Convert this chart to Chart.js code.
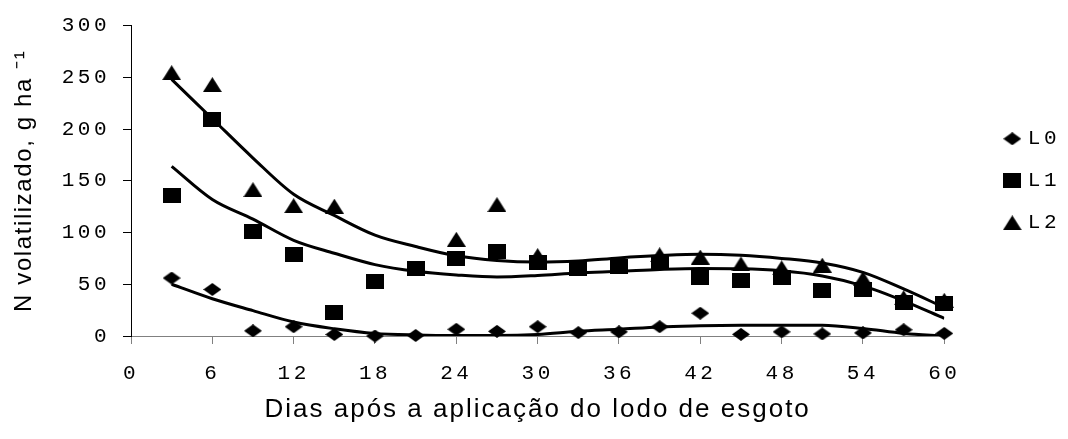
<!DOCTYPE html>
<html>
<head>
<meta charset="utf-8">
<script src="https://cdn.jsdelivr.net/npm/chart.js@4.4.1/dist/chart.umd.min.js"></script>
<style>
  html, body { margin: 0; padding: 0; background: #fff; }
  canvas { display: block; }
</style>
</head>
<body>
<canvas id="chart" width="1068" height="439"></canvas>
<script>
// Sampling days after sludge application
const days = [3, 6, 9, 12, 15, 18, 21, 24, 27, 30, 33, 36, 39, 42, 45, 48, 51, 54, 57, 60];

// Measured N volatilised (g/ha) for each sludge dose
const l0 = [56, 45, 5, 9, 1.5, 0, 0.5, 6.5, 4.5, 9, 3.3, 4, 9, 22, 1.6, 4, 2, 3, 6, 2.5];
const l1 = [135.5, 209, 101, 79, 22.5, 52.5, 65, 75, 82, 71, 65.5, 67, 71, 57, 54, 57, 43.5, 45, 32.5, 31];
const l2 = [254.5, 243, 141.5, 126, 125.5, null, null, 93.5, 127, 77.7, null, null, 78.5, 76.3, 69.6, 65.8, 68.5, 55.5, 37, 34.5];

// Fitted trend curves, evaluated on the same days
const l0Fit = [50, 36, 24.5, 13.5, 7, 2.5, 1, 0.5, 0.5, 1.5, 4.5, 6.5, 8.8, 9.8, 10.4, 10.5, 10.4, 7.3, 2.5, 0];
const l1Fit = [164, 132, 113, 92.5, 80, 69, 62.5, 59, 57, 58.5, 61, 62.5, 64.3, 65.3, 65, 63, 58, 48.5, 34, 17];
const l2Fit = [248, 210, 172, 137, 116.5, 97.5, 86.5, 77.5, 73, 71.5, 72.6, 75.5, 77.7, 79, 78, 75, 70.6, 61.5, 45.5, 27.5];

const seriesNames = ['L0', 'L1', 'L2'];
const xTicks = { min: 0, max: 60, step: 6 };
const yTicks = { min: 0, max: 300, step: 50 };

const xTitle = 'Dias após a aplicação do lodo de esgoto';
const yTitle = 'N volatilizado, g ha ⁻¹';

// Text spacing used for the typewriter-style labels and the axis titles
const LABEL_SPACING = '3.5px';
const TITLE_SPACING = { x: '2px', y: '1.6px' };
const LEGEND_SHIFT = 42;

// Solid black marker bitmaps (slightly wider than tall)
function marker(shape, w, h) {
  const c = document.createElement('canvas');
  c.width = w; c.height = h;
  const g = c.getContext('2d');
  g.fillStyle = '#000';
  g.beginPath();
  if (shape === 'diamond') {
    g.moveTo(w / 2, 0); g.lineTo(w, h / 2); g.lineTo(w / 2, h); g.lineTo(0, h / 2);
  } else if (shape === 'square') {
    g.rect(0, 0, w, h);
  } else {
    g.moveTo(w / 2, 0); g.lineTo(w, h); g.lineTo(0, h);
  }
  g.closePath();
  g.fill();
  return c;
}
const markers = [marker('diamond', 18, 13), marker('square', 18, 15), marker('triangle', 19, 15)];

const toPoints = vals => days.map((d, i) => ({ x: d, y: vals[i] }));

const pointSets = [l0, l1, l2].map((vals, i) => ({
  label: seriesNames[i],
  data: toPoints(vals),
  showLine: false,
  pointStyle: markers[i],
  pointRadius: 9,
  pointHoverRadius: 9,
  backgroundColor: '#000',
  borderColor: '#000',
  clip: false
}));

const fitSets = [l0Fit, l1Fit, l2Fit].map((vals, i) => ({
  label: seriesNames[i] + ' ajuste',
  data: toPoints(vals),
  borderColor: '#000',
  borderWidth: 3,
  pointRadius: 0,
  fill: false,
  cubicInterpolationMode: 'monotone'
}));

// Axis titles keep their own spacing, the rest of the text uses LABEL_SPACING
const baseDrawTitle = Chart.Scale.prototype.drawTitle;
Chart.Scale.prototype.drawTitle = function () {
  const ctx = this.ctx;
  const prev = ctx.letterSpacing;
  ctx.letterSpacing = TITLE_SPACING[this.id] || '0px';
  baseDrawTitle.apply(this, arguments);
  ctx.letterSpacing = prev;
};

const spacingPlugin = {
  id: 'labelSpacing',
  beforeDraw(chart) { chart.ctx.letterSpacing = LABEL_SPACING; },
  afterDraw(chart) { chart.ctx.letterSpacing = '0px'; }
};

// Move the legend block toward the right edge of the canvas
const legendShift = {
  id: 'legendShift',
  afterLayout(chart) {
    const lg = chart.legend;
    if (lg) { lg.left += LEGEND_SHIFT; lg.right += LEGEND_SHIFT; }
  }
};

const monoFont = { family: 'Liberation Mono', size: 21 };

new Chart(document.getElementById('chart'), {
  type: 'line',
  data: { datasets: [...pointSets, ...fitSets] },
  plugins: [spacingPlugin, legendShift],
  options: {
    responsive: false,
    animation: false,
    devicePixelRatio: 1,
    layout: { padding: { top: 20, right: 47, bottom: 0, left: 0 } },
    plugins: {
      tooltip: { enabled: false },
      legend: {
        position: 'right',
        fullSize: false,
        labels: {
          usePointStyle: true,
          boxWidth: 10,
          padding: 21,
          color: '#000',
          font: monoFont,
          filter: item => item.datasetIndex < 3
        }
      }
    },
    scales: {
      x: {
        type: 'linear',
        min: xTicks.min,
        max: xTicks.max,
        ticks: { stepSize: xTicks.step, autoSkip: false, maxRotation: 0, color: '#000', font: monoFont, padding: 17 },
        grid: { drawOnChartArea: false, tickLength: 8, color: '#808080' },
        border: { color: '#808080', width: 1 },
        title: { display: true, text: xTitle, color: '#000', font: { family: 'Liberation Sans', size: 26 }, padding: { top: 0, bottom: 14 } },
        afterFit: s => { s.height = 103; }
      },
      y: {
        type: 'linear',
        min: yTicks.min,
        max: yTicks.max,
        ticks: { stepSize: yTicks.step, color: '#000', font: monoFont, padding: 13 },
        grid: { drawOnChartArea: false, tickLength: 8, color: '#000' },
        border: { color: '#000', width: 1 },
        title: { display: true, text: yTitle, color: '#000', font: { family: 'Liberation Sans', size: 24 }, padding: { top: 10, bottom: 0 } },
        afterFit: s => { s.width = 131; }
      }
    }
  }
});
</script>
</body>
</html>
